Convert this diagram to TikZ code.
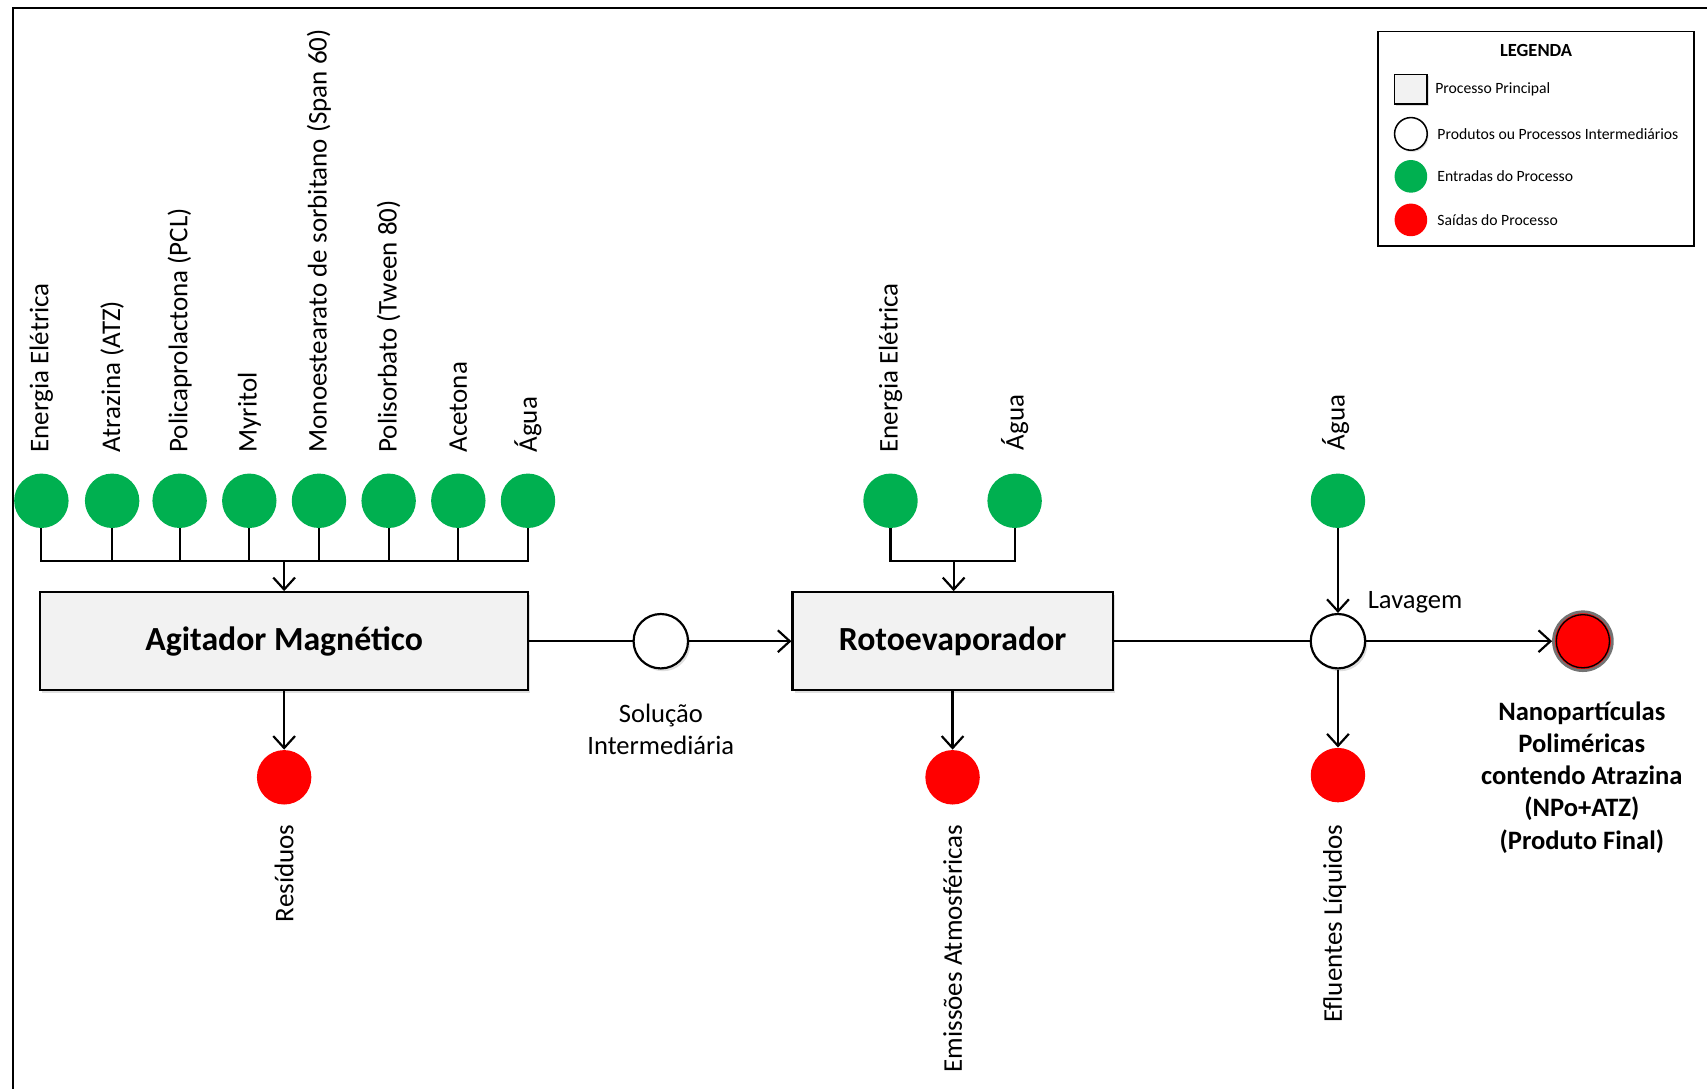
\documentclass[tikz,border=0pt]{standalone}
\usepackage{fontspec}
\setmainfont{Carlito}
\usetikzlibrary{arrows.meta,shadows,calc}
\definecolor{inputgreen}{HTML}{00B050}
\definecolor{outputred}{HTML}{FF0000}
\definecolor{procfill}{HTML}{F2F2F2}

\begin{document}
\begin{tikzpicture}[x=0.5pt,y=-0.5pt,
  flow/.style={line width=1pt},
  arr/.style={flow,-{Straight Barb[length=5.5pt,width=10pt,line width=1pt]}},
  softshadow/.style={drop shadow={shadow xshift=1pt,shadow yshift=-1.3pt,opacity=0.25}},
  procbox/.style={draw, line width=1pt, fill=procfill, minimum height=45pt,
    inner sep=0, softshadow, font=\bfseries\fontsize{15.5}{18}\selectfont},
  inp/.style={circle, fill=inputgreen, minimum size=25pt, inner sep=0},
  outp/.style={circle, fill=outputred, minimum size=25pt, inner sep=0},
  midnode/.style={circle, draw, line width=1pt, fill=white, minimum size=25pt,
    inner sep=0, softshadow},
  finalnode/.style={circle, fill=outputred, draw=black!55, line width=1.3pt,
    minimum size=27pt, inner sep=0},
  vlab/.style={rotate=90, inner sep=0, font=\fontsize{12.4}{14}\selectfont},
  lab/.style={inner sep=0, align=center, font=\fontsize{12.2}{15}\selectfont},
  boldlab/.style={inner sep=0, align=center, font=\bfseries\fontsize{12.2}{14.8}\selectfont},
  legtext/.style={inner sep=0, anchor=west, font=\fontsize{7.2}{9}\selectfont},
]
\useasboundingbox (0,0) rectangle (1568,1000);

% outer frame
\draw[line width=1pt] (12,1000) -- (12,7) -- (1568,7);

% ---------------- legend ----------------
\node[draw, line width=0.75pt, minimum width=145pt, minimum height=98.5pt, inner sep=0]
  (leg) at (1411,127.5) {};
\node[inner sep=0, font=\bfseries\fontsize{8.5}{10}\selectfont] (legtitle) at (1411,46) {LEGENDA};
\node[draw, line width=0.7pt, fill=procfill, minimum width=15pt, minimum height=13.5pt,
  inner sep=0, drop shadow={shadow xshift=0.6pt,shadow yshift=-0.8pt,opacity=0.25}]
  (legbox) at (1296,82) {};
\node[legtext] (legboxt) at (1318,82) {Processo Principal};
\node[circle, draw, line width=0.7pt, fill=white, minimum size=15pt, inner sep=0,
  drop shadow={shadow xshift=0.6pt,shadow yshift=-0.8pt,opacity=0.25}]
  (legmid) at (1296,123) {};
\node[legtext] (legmidt) at (1320,123) {Produtos ou Processos Intermediários};
\node[circle, fill=inputgreen, minimum size=15pt, inner sep=0] (legin) at (1296,162) {};
\node[legtext] (legint) at (1320,162) {Entradas do Processo};
\node[circle, fill=outputred, minimum size=15pt, inner sep=0] (legout) at (1296,202) {};
\node[legtext] (legoutt) at (1320,202) {Saídas do Processo};

% ---------------- main processes ----------------
\node[procbox, minimum width=224pt] (am) at (261,589) {Agitador Magnético};
\node[procbox, minimum width=147pt] (rot) at (875,589) {Rotoevaporador};

% inputs of the magnetic stirrer
\foreach \x/\t [count=\i] in {38/Energia Elétrica, 103/Atrazina (ATZ),
    165/Policaprolactona (PCL), 229/Myritol,
    293/Monoestearato de sorbitano (Span 60), 357/Polisorbato (Tween 80),
    421/Acetona, 485/Água} {
  \node[inp] (g\i) at (\x,460) {};
  \node[vlab, anchor=west] (gl\i) at (\x,416) {\t};
  \coordinate (b\i) at (\x,515);
}
\coordinate (amb) at (261,515);
\draw[flow] (g1.south) |- (b8) -- (g8.south);
\foreach \i in {2,...,7} { \draw[flow] (g\i.south) -- (b\i); }
\draw[arr] (amb) -- (am.north);

% output of the magnetic stirrer
\node[outp] (r1) at (261,714) {};
\draw[arr] (am.south) -- (r1.north);
\node[vlab, anchor=east] (r1l) at (261,757) {Resíduos};

% intermediate solution
\node[midnode] (sol) at (607,589) {};
\draw[flow] (am.east) -- (sol.west);
\draw[arr] (sol.east) -- (rot.west);
\node[lab] (soll) at (607,670) {Solução\\Intermediária};

% inputs of the rotary evaporator
\node[inp] (e1) at (818,460) {};
\node[inp] (e2) at (932,460) {};
\node[vlab, anchor=west] (e1l) at (818,416) {Energia Elétrica};
\node[vlab, anchor=west] (e2l) at (932,414) {Água};
\coordinate (rb) at (876,515);
\draw[flow] (e1.south) |- (rb) -| (e2.south);
\draw[arr] (rb) -- (rot.north -| rb);

% output of the rotary evaporator
\node[outp] (r2) at (875,714) {};
\draw[arr] (rot.south) -- (r2.north);
\node[vlab, anchor=east] (r2l) at (875,757) {Emissões Atmosféricas};

% washing step
\node[midnode] (lav) at (1229,589) {};
\draw[flow] (rot.east) -- (lav.west);
\node[lab, anchor=west] (lavl) at (1256,553) {Lavagem};
\node[inp] (w) at (1229,460) {};
\node[vlab, anchor=west] (wl) at (1227,414) {Água};
\draw[arr] (w.south) -- (lav.north);
\node[outp] (r3) at (1229,712) {};
\draw[arr] (lav.south) -- (r3.north);
\node[vlab, anchor=east] (r3l) at (1226,757) {Efluentes Líquidos};

% final product
\node[finalnode] (fin) at (1454,589) {};
\draw[black, line width=0.6pt] (fin.center) circle (12.2pt);
\draw[arr] (lav.east) -- (fin.west);
\node[boldlab] (finl) at (1453,714) {Nanopartículas\\Poliméricas\\contendo Atrazina\\(NPo+ATZ)\\(Produto Final)};

\end{tikzpicture}
\end{document}
